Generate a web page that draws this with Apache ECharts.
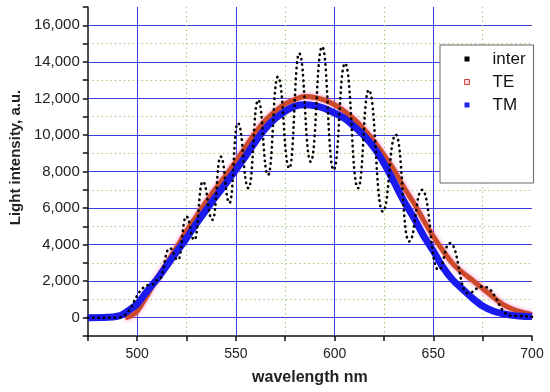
<!DOCTYPE html>
<html>
<head>
<meta charset="utf-8">
<script src="https://cdn.jsdelivr.net/npm/echarts@6/dist/echarts.min.js"></script>
<style>html,body{margin:0;padding:0;background:#fff;}#c{width:550px;height:392px;}</style>
</head>
<body>
<div id="c"></div>
<script>
// interference signal: read peaks / valleys (nm, a.u.)
const interWl  = [475, 490, 507, 511, 516.5, 520.7, 524.9, 529, 533.2, 538.2, 542.3, 546.8, 551, 556.4, 561.3, 566.3, 571.3, 577.1, 582.1, 587.9, 593.7, 599.5, 605.3, 611.9, 617.3, 624.4, 631, 637.7, 644.3, 652.6, 658.4, 667.5, 675, 690, 700];
const interVal = [0, 0, 1800, 2100, 3800, 3170, 5535, 4260, 7450, 5355, 8815, 6280, 10650, 7090, 11910, 7810, 13185, 8180, 14463, 8540, 14824, 8090, 13917, 7090, 12458, 5810, 10020, 4170, 6994, 2620, 4081, 1350, 1710, 100, 50];
// TE polarisation
const teWl  = [494, 497, 500, 505, 510, 515, 520, 525, 530, 535, 540, 545, 550, 555, 560, 565, 570, 575, 580, 585, 590, 595, 600, 605, 610, 615, 620, 625, 630, 635, 640, 645, 650, 655, 660, 665, 670, 675, 680, 685, 690, 695, 700];
const teVal = [0, 100, 350, 1200, 2150, 3000, 3850, 4750, 5550, 6350, 7100, 7800, 8550, 9350, 10150, 10800, 11300, 11700, 11950, 12100, 12050, 11900, 11650, 11300, 10850, 10300, 9650, 8900, 8100, 7150, 6300, 5350, 4450, 3650, 2950, 2450, 2040, 1600, 1160, 750, 480, 300, 170];
// TM polarisation
const tmWl  = [475, 485, 490, 493, 496, 500, 505, 510, 515, 520, 525, 530, 535, 540, 545, 550, 555, 560, 565, 570, 575, 580, 585, 590, 595, 600, 605, 610, 615, 620, 625, 630, 635, 640, 645, 650, 655, 660, 665, 670, 675, 680, 685, 690, 695, 700];
const tmVal = [0, 20, 80, 200, 420, 750, 1450, 2100, 2850, 3600, 4350, 5150, 5900, 6650, 7350, 8100, 8850, 9650, 10350, 10900, 11300, 11580, 11650, 11600, 11450, 11200, 10900, 10450, 9950, 9300, 8450, 7450, 6400, 5500, 4500, 3650, 2750, 2050, 1550, 1050, 640, 380, 220, 130, 80, 60];
// tick labels
const xTickLabels = [500, 550, 600, 650, 700];
const yTickLabels = [0, 2000, 4000, 6000, 8000, 10000, 12000, 14000, 16000];

const pairs = (a, b) => a.map((v, i) => [v, b[i]]);
const fmt = v => String(v).replace(/\B(?=(\d{3})+(?!\d))/g, ',');
const FONT = 'Arial, "Liberation Sans", sans-serif';
const BLUE = '#3c3cdc', GREEN = '#9ccc7a', NONE = 'rgba(0,0,0,0)';

const chart = echarts.init(document.getElementById('c'), null, {renderer: 'canvas'});
chart.setOption({
  animation: false,
  backgroundColor: '#fff',
  grid: {left: 80, right: 18, top: 7, bottom: 56, containLabel: false},
  legend: {
    left: 440, top: 45, orient: 'vertical',
    backgroundColor: '#fff', borderColor: '#666', borderWidth: 1,
    padding: [4, 8, 68, 24], itemGap: 3,
    itemWidth: 5, itemHeight: 5, icon: 'rect',
    textStyle: {fontFamily: FONT, fontSize: 17, color: '#111', lineHeight: 20, padding: [0, 0, 0, 18]},
    data: [
      {name: 'inter', itemStyle: {color: '#000'}},
      {name: 'TE', itemStyle: {color: '#fbd6dc', borderColor: '#d04a3a', borderWidth: 1}},
      {name: 'TM', itemStyle: {color: '#2020ee'}}
    ]
  },
  xAxis: [{
    type: 'value', min: 475, max: 700, interval: 25,
    name: 'wavelength nm', nameLocation: 'middle', nameGap: 34,
    nameTextStyle: {fontFamily: FONT, fontSize: 16, fontWeight: 'bold', color: '#222'},
    axisLine: {show: true, onZero: false, lineStyle: {color: '#111', width: 1.5}},
    axisTick: {show: true, inside: false, length: 5, lineStyle: {color: '#111', width: 1.5}},
    axisLabel: {fontFamily: FONT, fontSize: 14, color: '#222', margin: 11,
      formatter: v => xTickLabels.includes(v) ? String(v) : ''},
    splitLine: {show: true, showMinLine: false, showMaxLine: false, lineStyle: {color: [BLUE, NONE], width: 1}}
  }, {
    type: 'value', min: 475, max: 700, interval: 25,
    axisLine: {show: false}, axisTick: {show: false}, axisLabel: {show: false},
    splitLine: {show: true, showMinLine: false, showMaxLine: false, lineStyle: {color: [NONE, GREEN], width: 1, type: [1.5, 3]}}
  }],
  yAxis: [{
    type: 'value', min: -1000, max: 17000, interval: 1000,
    name: 'Light intensity, a.u.', nameLocation: 'middle', nameGap: 58,
    nameTextStyle: {fontFamily: FONT, fontSize: 15, fontWeight: 'bold', color: '#222', padding: [0, 0, 0, 28]},
    axisLine: {show: true, onZero: false, lineStyle: {color: '#111', width: 1.5}},
    axisTick: {show: true, inside: false, length: 5, lineStyle: {color: '#111', width: 1.5}},
    axisLabel: {fontFamily: FONT, fontSize: 15, color: '#222', margin: 8,
      formatter: v => yTickLabels.includes(v) ? fmt(v) : ''},
    splitLine: {show: true, showMinLine: false, showMaxLine: false, lineStyle: {color: [BLUE, NONE], width: 1}}
  }, {
    type: 'value', min: -1000, max: 17000, interval: 1000,
    axisLine: {show: false}, axisTick: {show: false}, axisLabel: {show: false},
    splitLine: {show: true, showMinLine: false, showMaxLine: false, lineStyle: {color: [NONE, GREEN], width: 1, type: [1.5, 3]}}
  }],
  series: [{
    name: 'TE', type: 'line', xAxisIndex: 0, yAxisIndex: 0,
    data: pairs(teWl, teVal), smooth: 0.3, showSymbol: false, z: 3,
    itemStyle: {color: '#d04a3a'},
    lineStyle: {color: '#cc4a2a', width: 5, shadowColor: 'rgba(255,110,190,0.8)', shadowBlur: 4}
  }, {
    name: 'TM', type: 'line', xAxisIndex: 0, yAxisIndex: 0,
    data: pairs(tmWl, tmVal), smooth: 0.3, showSymbol: false, z: 4,
    itemStyle: {color: '#2020ee'},
    lineStyle: {color: '#1a1aee', width: 7}
  }, {
    name: 'inter', type: 'line', xAxisIndex: 0, yAxisIndex: 0,
    data: pairs(interWl, interVal), smooth: 0.5, smoothMonotone: 'x', showSymbol: false, z: 5,
    itemStyle: {color: '#000'},
    lineStyle: {color: '#000', width: 2.6, type: [0.4, 5], cap: 'round'}
  }]
});
</script>
</body>
</html>
